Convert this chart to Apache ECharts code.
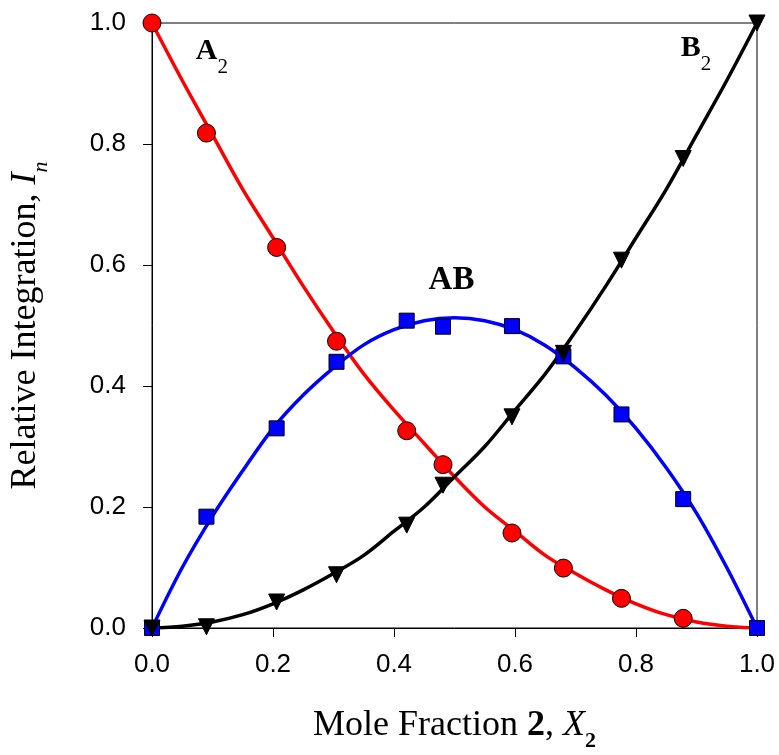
<!DOCTYPE html>
<html><head><meta charset="utf-8">
<script src="https://cdn.jsdelivr.net/npm/echarts@6/dist/echarts.min.js"></script>
<style>html,body{margin:0;padding:0;background:#fff}#c{width:779px;height:755px}</style>
</head><body><div id="c"></div><script>
// measured points
const xPoints = [0, 0.09, 0.206, 0.305, 0.421, 0.481, 0.595, 0.680, 0.776, 0.878, 1.0];
const a2Points = [1.0, 0.818, 0.629, 0.474, 0.326, 0.270, 0.157, 0.099, 0.049, 0.016, null];
const abPoints = [0, 0.184, 0.330, 0.440, 0.508, 0.498, 0.499, 0.449, 0.353, 0.213, 0];
const b2Points = [0, 0.002, 0.043, 0.088, 0.170, 0.236, 0.349, 0.454, 0.608, 0.776, 1.0];
// fitted curves
const xCurve = [0,0.05,0.1,0.15,0.2,0.25,0.3,0.35,0.4,0.45,0.5,0.55,0.6,0.65,0.7,0.75,0.8,0.85,0.9,0.95,1.0];
const a2Curve = [1.0,0.905,0.815,0.725,0.645,0.565,0.49,0.42,0.36,0.305,0.25,0.2,0.16,0.12,0.09,0.063,0.04,0.022,0.01,0.003,0];
const abCurve = [0,0.10,0.185,0.26,0.33,0.385,0.43,0.468,0.493,0.508,0.513,0.508,0.493,0.467,0.43,0.385,0.33,0.265,0.19,0.10,0];
const b2Curve = [0,0.003,0.01,0.022,0.04,0.063,0.09,0.12,0.16,0.2,0.25,0.3,0.36,0.42,0.49,0.565,0.645,0.725,0.815,0.905,1.0];
const xTicks = [0, 0.2, 0.4, 0.6, 0.8, 1.0];
const annotX = [0.099, 0.899, 0.495];
const annotY = [0.944, 0.949, 0.575];
const annotText = ['{b|A}{s|2}', '{b|B}{s|2}', '{c|AB}'];

const zip = (xs, ys) => xs.map((x, i) => [x, ys[i]]).filter(p => p[1] !== null);
const serif = 'Liberation Serif';
const sans = 'Liberation Sans';

const chart = echarts.init(document.getElementById('c'), null, {renderer: 'canvas'});
const lineCurve = (data, color, w) => ({type: 'line', data, smooth: 0.35, showSymbol: false, symbol: 'none',
  lineStyle: {color, width: w, opacity: 1}, itemStyle: {color, opacity: 1}, z: 2, silent: true, animation: false});
const scat = (data, symbol, size, color, rotate) => ({type: 'scatter', data, symbol, symbolSize: size,
  symbolRotate: rotate || 0, itemStyle: {color, borderColor: '#000', borderWidth: 1, opacity: 1},
  emphasis: {disabled: true}, z: 3, animation: false});

chart.setOption({
  animation: false,
  grid: {left: 152, right: 22, top: 23, bottom: 127, outerBoundsMode: 'none', containLabel: false,
    show: true, borderColor: '#000', borderWidth: 1, backgroundColor: 'transparent'},
  xAxis: {
    type: 'value', min: 0, max: 1, interval: 0.2,
    axisLine: {show: true, lineStyle: {color: '#000', width: 1}},
    axisTick: {show: true, inside: false, length: 9, lineStyle: {color: '#000'}},
    splitLine: {show: false},
    axisLabel: {margin: 24, color: '#000', fontFamily: sans, fontSize: 26, formatter: v => v.toFixed(1)},
    name: '{n|Mole Fraction }{b|2}{n|, }{i|X}{s|2}',
    nameLocation: 'middle', nameGap: 80,
    nameTextStyle: {color: '#000', fontFamily: serif, fontSize: 36,
      rich: {
        n: {fontFamily: serif, fontSize: 36, color: '#000', lineHeight: 40, verticalAlign: 'top'},
        b: {fontFamily: serif, fontSize: 36, fontWeight: 'bold', color: '#000', lineHeight: 40, verticalAlign: 'top'},
        i: {fontFamily: serif, fontSize: 36, fontStyle: 'italic', color: '#000', lineHeight: 40, verticalAlign: 'top'},
        s: {fontFamily: serif, fontSize: 22, fontWeight: 'bold', color: '#000', lineHeight: 44, verticalAlign: 'bottom'}
      }}
  },
  yAxis: {
    type: 'value', min: 0, max: 1, interval: 0.2,
    axisLine: {show: true, lineStyle: {color: '#000', width: 1}},
    axisTick: {show: true, inside: false, length: 9, lineStyle: {color: '#000'}},
    splitLine: {show: false},
    axisLabel: {margin: 26, color: '#000', fontFamily: sans, fontSize: 26, formatter: v => v.toFixed(1)},
    name: '{n|Relative Integration, }{i|I}{s|n}',
    nameLocation: 'middle', nameRotate: 90, nameGap: 100,
    nameTextStyle: {color: '#000', fontFamily: serif, fontSize: 36,
      rich: {
        n: {fontFamily: serif, fontSize: 36, color: '#000', lineHeight: 40, verticalAlign: 'top'},
        i: {fontFamily: serif, fontSize: 36, fontStyle: 'italic', color: '#000', lineHeight: 40, verticalAlign: 'top'},
        s: {fontFamily: serif, fontSize: 22, fontStyle: 'italic', color: '#000', lineHeight: 44, verticalAlign: 'bottom'}
      }}
  },
  series: [
    lineCurve(zip(xCurve, a2Curve), '#ff0000', 3.5),
    lineCurve(zip(xCurve, abCurve), '#0000ff', 3.5),
    lineCurve(zip(xCurve, b2Curve), '#000000', 3.5),
    scat(zip(xPoints, a2Points), 'circle', 18, '#ff0000'),
    scat(zip(xPoints, abPoints), 'rect', 15, '#0000ff'),
    scat(zip(xPoints, b2Points), 'triangle', 16, '#000000', 180),
    {type: 'scatter', data: zip(annotX, annotY), symbolSize: 0, silent: true, z: 5,
      itemStyle: {opacity: 1}, emphasis: {disabled: true},
      label: {show: true, position: 'inside', opacity: 1, color: '#000', formatter: p => annotText[p.dataIndex],
        rich: {
          b: {fontFamily: serif, fontSize: 30, fontWeight: 'bold', color: '#000', lineHeight: 34, verticalAlign: 'top'},
          s: {fontFamily: serif, fontSize: 21, color: '#000', lineHeight: 42, verticalAlign: 'bottom'},
          c: {fontFamily: serif, fontSize: 33, fontWeight: 'bold', color: '#000', lineHeight: 36}
        }}}
  ]
});
</script></body></html>
